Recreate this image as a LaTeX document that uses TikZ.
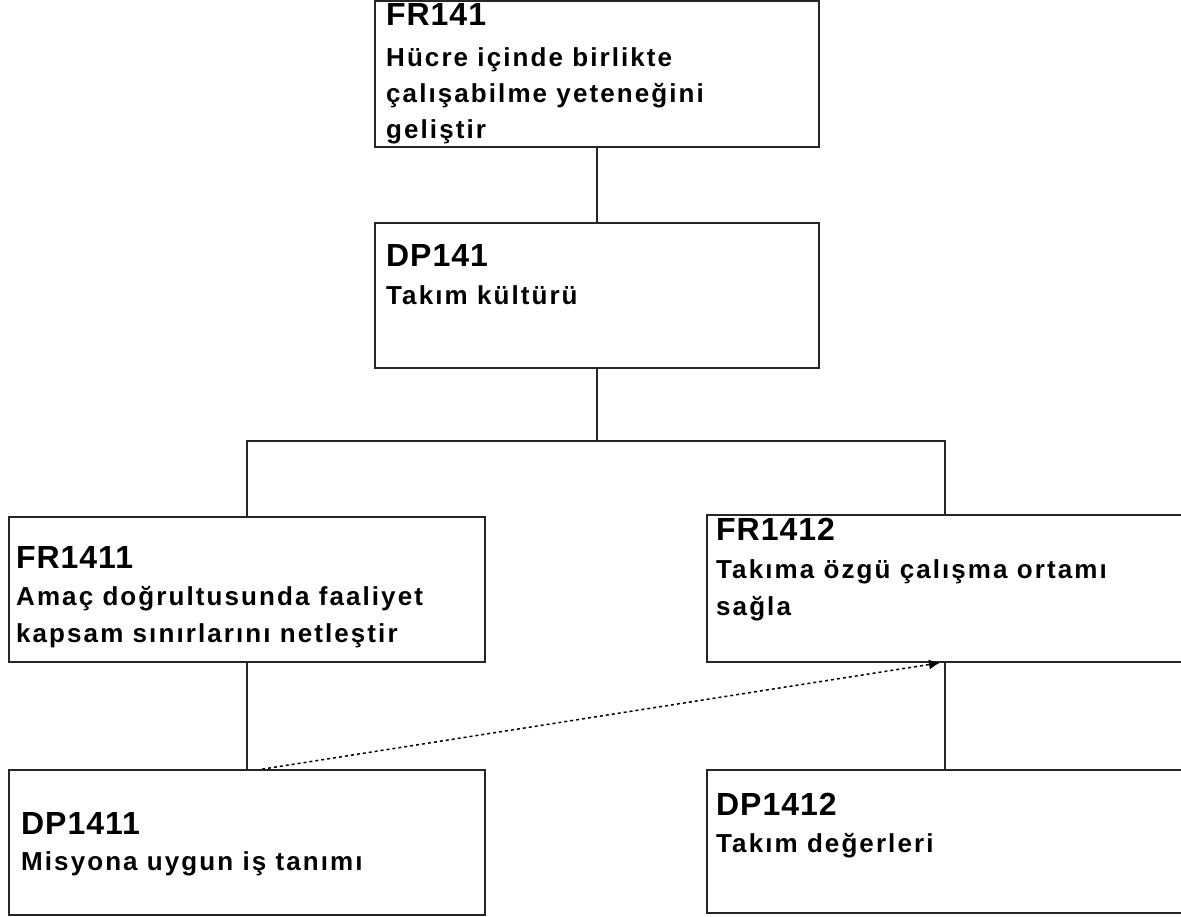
\documentclass[tikz,border=0pt]{standalone}
\usepackage{fontspec}
\setmainfont{Liberation Sans}
\newfontfamily\titlefam[LetterSpace=3]{Liberation Sans}
\newfontfamily\bodyfam[LetterSpace=8]{Liberation Sans}
\usetikzlibrary{arrows.meta}
\begin{document}
\begin{tikzpicture}[x=1pt,y=-1pt,
  box/.style={draw=black!85, line width=1.6pt, rectangle, inner sep=0pt, fill=none},
  ttl/.style={anchor=base west, inner sep=0pt, font=\titlefam\bfseries\fontsize{32}{36}\selectfont},
  txt/.style={anchor=base west, inner sep=0pt, font=\bodyfam\bfseries\fontsize{26}{36}\selectfont},
  conn/.style={draw=black!85, line width=1.6pt},
  dotarrow/.style={draw=black, line width=1.5pt, dash pattern=on 3pt off 3pt, -{Latex[length=11pt,width=10pt]}}]
\useasboundingbox (0,0) rectangle (1181,917);
% boxes
\node[box, minimum width=444pt, minimum height=146pt] (fr141) at (597,74) {};
\node[box, minimum width=444pt, minimum height=145pt] (dp141) at (597,295.5) {};
\node[box, minimum width=476pt, minimum height=145pt] (fr1411) at (247,589.5) {};
\node[box, minimum width=476pt, minimum height=147pt] (fr1412) at (945,588.5) {};
\node[box, minimum width=476pt, minimum height=145pt] (dp1411) at (247,842.5) {};
\node[box, minimum width=476pt, minimum height=143pt] (dp1412) at (945,841.5) {};
% texts
\node[ttl] (fr141t) at (386,26) {FR141};
\node[txt] (fr141a) at (386,67) {Hücre içinde birlikte};
\node[txt] (fr141b) at (386,103) {çalışabilme yeteneğini};
\node[txt] (fr141c) at (386,139) {geliştir};
\node[ttl] (dp141t) at (386,267) {DP141};
\node[txt] (dp141a) at (386,305) {Takım kültürü};
\node[ttl] (fr1411t) at (16,568) {FR1411};
\node[txt] (fr1411a) at (16,605) {Amaç doğrultusunda faaliyet};
\node[txt] (fr1411b) at (16,642) {kapsam sınırlarını netleştir};
\node[ttl] (fr1412t) at (716,540) {FR1412};
\node[txt] (fr1412a) at (716,578) {Takıma özgü çalışma ortamı};
\node[txt] (fr1412b) at (716,615) {sağla};
\node[ttl] (dp1411t) at (21,834) {DP1411};
\node[txt] (dp1411a) at (21,870) {Misyona uygun iş tanımı};
\node[ttl] (dp1412t) at (716,815) {DP1412};
\node[txt] (dp1412a) at (716,852) {Takım değerleri};
% connectors
\coordinate (bar) at (597,441);
\draw[conn] (fr141.south) -- (dp141.north);
\draw[conn] (dp141.south) -- (bar);
\draw[conn] (fr1411.north) -- (fr1411.north |- bar) -- (fr1412.north |- bar) -- (fr1412.north);
\draw[conn] (fr1411.south) -- (dp1411.north);
\draw[conn] (fr1412.south) -- (dp1412.north);
\draw[dotarrow] ([xshift=15pt]dp1411.north) -- ([xshift=-5pt]fr1412.south);
\end{tikzpicture}
\end{document}
